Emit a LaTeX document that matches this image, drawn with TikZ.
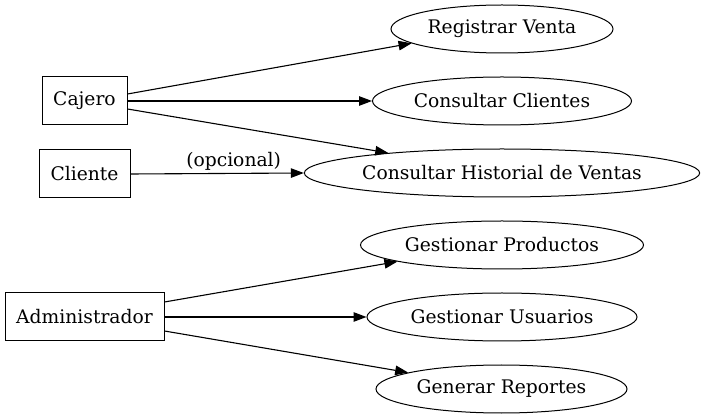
\documentclass[tikz,border=0pt]{standalone}
\usepackage{fontspec}
\setmainfont{DejaVu Serif}
\usetikzlibrary{shapes.geometric,arrows.meta}
\begin{document}
\begin{tikzpicture}[x=1pt,y=-1pt,
  every node/.style={font=\fontsize{18.7}{22}\selectfont},
  actor/.style={draw,line width=1pt,rectangle,inner sep=0pt,minimum height=48pt},
  usecase/.style={draw,line width=1pt,ellipse,inner sep=0pt,minimum height=48pt},
  conn/.style={line width=1.1pt,-{Triangle[length=13pt,width=9.5pt]}},
  lbl/.style={inner sep=0pt,anchor=south,yshift=2pt}]
\useasboundingbox (0,0) rectangle (704,419);
\node[actor,minimum width=85pt] (cajero) at (84.5,101) {Cajero};
\node[actor,minimum width=91pt] (cliente) at (84.5,174) {Cliente};
\node[actor,minimum width=159pt] (admin) at (84.5,317) {Administrador};
\node[usecase,minimum width=222pt] (reg) at (502,29) {Registrar Venta};
\node[usecase,minimum width=259pt] (ccli) at (502,101) {Consultar Clientes};
\node[usecase,minimum width=394pt] (hist) at (502,173) {Consultar Historial de Ventas};
\node[usecase,minimum width=283pt] (prod) at (502,245) {Gestionar Productos};
\node[usecase,minimum width=270pt] (usu) at (502,317) {Gestionar Usuarios};
\node[usecase,minimum width=251pt] (rep) at (501.5,389) {Generar Reportes};
\draw[conn] ([yshift=7pt]cajero.east) -- (reg.189.6);
\draw[conn] (cajero.east) -- (ccli.west);
\draw[conn] ([yshift=-8pt]cajero.east) -- (hist.170);
\draw[conn] (cliente.east) -- node[lbl,pos=0.595] {(opcional)} (hist.west);
\draw[conn] ([yshift=15pt]admin.east) -- (prod.189.6);
\draw[conn] (admin.east) -- (usu.west);
\draw[conn] ([yshift=-14pt]admin.east) -- (rep.170);
\end{tikzpicture}
\end{document}
